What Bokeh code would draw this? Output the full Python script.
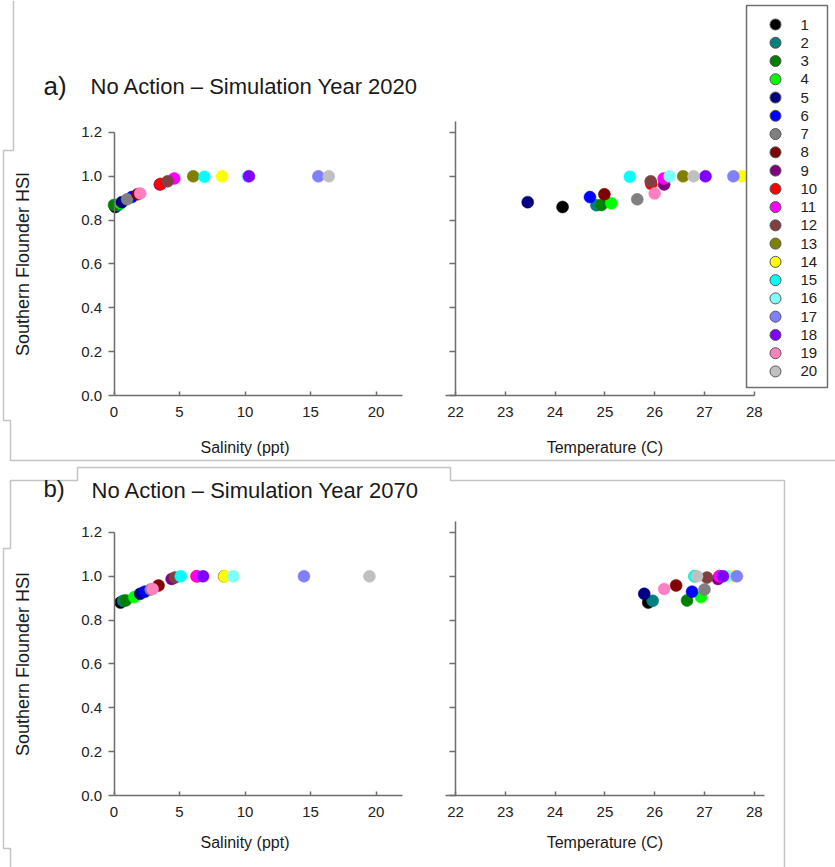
import math
from bokeh.plotting import figure
from bokeh.models import (Range1d, LinearAxis, FixedTicker, PrintfTickFormatter,
                          Label, ColumnDataSource)
from bokeh.core.properties import value
from bokeh.embed import file_html
from bokeh.resources import INLINE

# ---------------- data ----------------
sites = [str(i) for i in range(1, 21)]
colors = ["#000000", "#008080", "#008000", "#00ff00", "#000080", "#0000ff", "#808080",
          "#800000", "#800080", "#ff0000", "#ff00ff", "#804040", "#808000", "#ffff00",
          "#00ffff", "#80ffff", "#8080ff", "#8000ff", "#ff80c0", "#c0c0c0"]

# a) No Action - 2020
sal_2020 = [0.1, 0.3, 0.0, 0.5, 0.6, 1.35, 1.0, 1.8, 3.5, 3.56, 4.6, 4.1, 6.05, 8.25,
            6.9, 10.2, 15.6, 10.3, 2.0, 16.4]
temp_2020 = [24.15, 24.83, 24.93, 25.13, 23.45, 24.7, 25.65, 24.99, 26.19, 25.93, 26.18,
             25.92, 26.57, 27.75, 25.5, 26.3, 27.58, 27.02, 26.0, 26.78]
hsi_2020 = [0.86, 0.868, 0.869, 0.877, 0.882, 0.905, 0.895, 0.918, 0.963, 0.965, 0.99,
            0.977, 1.0, 1.0, 0.998, 1.0, 1.0, 1.0, 0.922, 1.0]

# b) No Action - 2070
sal_2070 = [0.5, 0.7, 0.9, 1.55, 2.0, 2.35, 2.8, 3.4, 4.4, 6.3, 6.35, 4.65, 8.4, 8.45,
            5.1, 9.1, 14.5, 6.8, 2.95, 19.5]
temp_2070 = [25.87, 25.96, 26.65, 26.93, 25.79, 26.75, 27.0, 26.43, 27.27, 27.3, 27.3,
             27.05, 26.8, 27.6, 26.8, 27.47, 27.65, 27.37, 26.19, 26.85]
hsi_2070 = [0.88, 0.888, 0.89, 0.905, 0.92, 0.93, 0.94, 0.958, 0.988, 1.0, 1.0, 0.994,
            1.0, 1.0, 1.0, 1.0, 1.0, 1.0, 0.942, 1.0]

sal_ticks = [0, 5, 10, 15, 20]
temp_ticks = [22, 23, 24, 25, 26, 27, 28]
hsi_ticks = [0.0, 0.2, 0.4, 0.6, 0.8, 1.0, 1.2]

# ---------------- layout constants ----------------
W, H = 835, 867
FONT = "Liberation Sans"
SAL_PX0, SAL_K = 113.5, 13.1          # pixel of salinity 0, px per ppt
TEMP_PX22, TEMP_K = 455.0, 49.8       # pixel of 22 C, px per degree
HSI_A_PX0, HSI_B_PX0, HSI_K = 395.0, 795.0, 219.2
LEG_PX1, LEG_PITCH = 24.0, 18.26      # legend: pixel row of entry 1, row pitch
LEG_BOX = dict(left=746, right=827, top=5, bottom=387)
LEG_MARK_X, LEG_TEXT_X = 775, 800
AXIS_COLOR = "#6e6e6e"
FRAME_COLOR = "#c4c4c4"
TEXT_COLOR = "#1a1a1a"


def xr(anchor_val, anchor_px, k):
    return Range1d(start=anchor_val - anchor_px / k, end=anchor_val + (W - anchor_px) / k)


def yr(anchor_val, anchor_px, k):
    # k > 0: values grow upwards; k < 0: values grow downwards
    return Range1d(start=anchor_val - (H - anchor_px) / k, end=anchor_val + anchor_px / k)


p = figure(width=W, height=H, output_backend="svg", toolbar_location=None, title=None,
           x_axis_type=None, y_axis_type=None, min_border=0,
           x_range=Range1d(0, W), y_range=Range1d(H, 0))
p.outline_line_color = None
p.grid.visible = False
p.background_fill_color = "white"
p.border_fill_color = "white"

p.extra_x_ranges = {"sal": xr(0, SAL_PX0, SAL_K), "temp": xr(22, TEMP_PX22, TEMP_K)}
p.extra_y_ranges = {"hsi_a": yr(0, HSI_A_PX0, HSI_K), "hsi_b": yr(0, HSI_B_PX0, HSI_K),
                    "leg": yr(1, LEG_PX1, -LEG_PITCH)}

# ---------------- decorative screenshot frames ----------------
frame_xs = [[13, 13, 3, 3, 10, 10, 835],
            [10, 10, 3, 3, 10, 10, 77, 77, 450, 450, 784, 784]]
frame_ys = [[0, 150, 150, 420, 420, 460, 460],
            [867, 848, 848, 548, 548, 480, 480, 467, 467, 480, 480, 867]]
p.multi_line(xs=frame_xs, ys=frame_ys, line_color=FRAME_COLOR, line_width=1.5)


# ---------------- axes ----------------
def axis(side, xname, yname, loc, bounds, ticks, fmt=None, labels=True, tick_in=0, tick_out=6,
         standoff=6):
    ax = LinearAxis(x_range_name=xname, y_range_name=yname, fixed_location=loc, bounds=bounds,
                    ticker=FixedTicker(ticks=ticks, minor_ticks=[]))
    ax.axis_line_color = AXIS_COLOR
    ax.axis_line_width = 1.5
    ax.major_tick_line_color = AXIS_COLOR
    ax.major_tick_line_width = 1.5
    ax.major_tick_in = tick_in
    ax.major_tick_out = tick_out
    ax.minor_tick_line_color = None
    ax.major_label_text_font = FONT
    ax.major_label_text_font_size = "15px"
    ax.major_label_text_color = "#222222" if labels else None
    ax.major_label_standoff = standoff
    if fmt:
        ax.formatter = PrintfTickFormatter(format=fmt)
    p.add_layout(ax, side)
    return ax


for yname, tb in (("hsi_a", (21.8, 28.0)), ("hsi_b", (21.8, 28.2))):
    axis("below", "sal", yname, 0, (0, 22), sal_ticks, tick_in=4, tick_out=0, standoff=11)
    axis("left", "sal", yname, 0, (0, 1.2), hsi_ticks, fmt="%.1f")
    axis("below", "temp", yname, 0, tb, temp_ticks, tick_in=4, tick_out=0, standoff=11)
    axis("left", "temp", yname, 22, (0, 1.25), hsi_ticks, labels=False)

# ---------------- points ----------------
src_a = ColumnDataSource(dict(sal=sal_2020, temp=temp_2020, hsi=hsi_2020, color=colors, site=sites))
src_b = ColumnDataSource(dict(sal=sal_2070, temp=temp_2070, hsi=hsi_2070, color=colors, site=sites))
PT = dict(size=12, fill_color="color", line_color="color", line_width=0.5)
p.scatter("sal", "hsi", source=src_a, x_range_name="sal", y_range_name="hsi_a", **PT)
p.scatter("temp", "hsi", source=src_a, x_range_name="temp", y_range_name="hsi_a", **PT)
p.scatter("sal", "hsi", source=src_b, x_range_name="sal", y_range_name="hsi_b", **PT)
p.scatter("temp", "hsi", source=src_b, x_range_name="temp", y_range_name="hsi_b", **PT)

# ---------------- legend (key of the 20 sites) ----------------
p.quad(fill_color="white", line_color="#707070", line_width=1.5, **LEG_BOX)
leg_src = ColumnDataSource(dict(num=[int(s) for s in sites], site=sites, color=colors))
p.scatter(x=LEG_MARK_X, y="num", source=leg_src, y_range_name="leg", size=11,
          fill_color="color", line_color="#555555", line_width=1)
p.text(x=LEG_TEXT_X, y="num", text="site", source=leg_src, y_range_name="leg",
       text_font=value(FONT), text_font_size=value("15px"), text_color="#222222",
       text_baseline="middle", text_align="left")


# ---------------- texts ----------------
def label(x, y, text, size, angle=0.0, align="left"):
    p.add_layout(Label(x=x, y=y, text=text, text_font=FONT, text_font_size=size,
                       text_color=TEXT_COLOR, text_align=align, text_baseline="middle",
                       angle=angle))


label(43, 85, "a)", "26px")
label(90, 86, "No Action \u2013 Simulation Year 2020", "22px")
label(43, 488, "b)", "24px")
label(91, 490, "No Action \u2013 Simulation Year 2070", "22px")

label(22, HSI_A_PX0 - 0.6 * HSI_K, "Southern Flounder HSI", "18px", angle=math.pi / 2, align="center")
label(22, HSI_B_PX0 - 0.6 * HSI_K, "Southern Flounder HSI", "18px", angle=math.pi / 2, align="center")

for base in (447, 842):
    label(SAL_PX0 + 10 * SAL_K, base, "Salinity (ppt)", "16px", align="center")
    label(TEMP_PX22 + 3 * TEMP_K, base, "Temperature (C)", "16px", align="center")

open("out.html", "w").write(file_html(p, INLINE))
